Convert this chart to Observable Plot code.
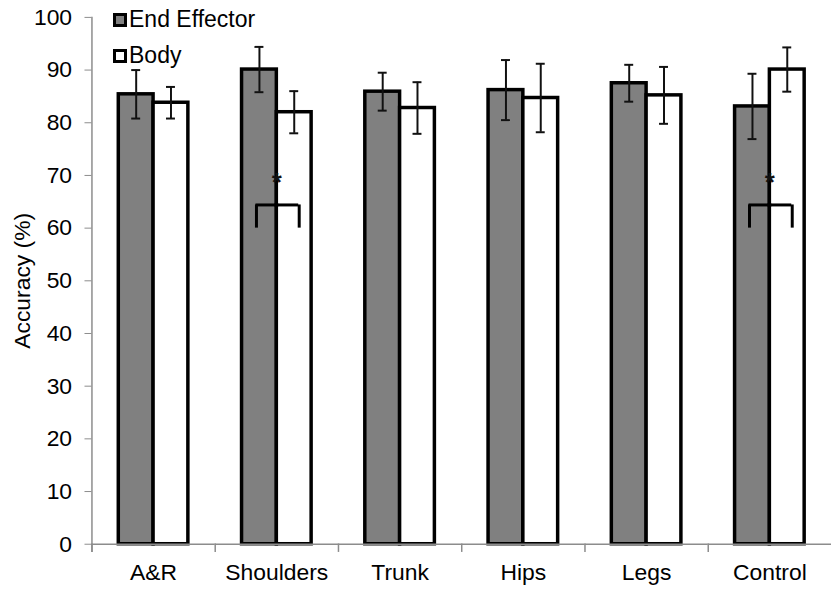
<!DOCTYPE html>
<html><head><meta charset="utf-8">
<script src="https://cdn.jsdelivr.net/npm/d3@7"></script>
<script src="https://cdn.jsdelivr.net/npm/@observablehq/plot@0.6"></script>
<style>
html,body{margin:0;padding:0;background:#fff;overflow:hidden}
#wrap{position:relative;width:831px;height:590px;overflow:hidden;font-family:"Liberation Sans",Arial,sans-serif}
.leg{position:absolute;left:129px;font-size:23px;line-height:23px;color:#000;white-space:nowrap}
.sw{position:absolute;left:113px;width:8px;height:8px;border:3px solid #000;box-sizing:content-box}
</style></head><body><div id="wrap"></div>
<script>
const categories = ["A&R", "Shoulders", "Trunk", "Hips", "Legs", "Control"];
const series = ["End Effector", "Body"];
const endEffector = [85.4, 90.1, 85.9, 86.2, 87.5, 83.1];
const endEffectorErr = [4.6, 4.3, 3.6, 5.7, 3.5, 6.2];
const body = [83.8, 82.0, 82.8, 84.7, 85.2, 90.1];
const bodyErr = [3.0, 4.0, 4.9, 6.5, 5.4, 4.2];
const yTicks = [0, 10, 20, 30, 40, 50, 60, 70, 80, 90, 100];
const sigCategories = ["Shoulders", "Control"];
const bracketTop = 64.4;
const bracketBottom = 60;
const starY = 68.7;

const rows = categories.flatMap((c, i) => [
  {cat: c, series: series[0], value: endEffector[i], err: endEffectorErr[i]},
  {cat: c, series: series[1], value: body[i], err: bodyErr[i]}
]);
const sigRows = sigCategories.flatMap(c => series.map(s => ({cat: c, series: s})));

const axisGray = "#8c8c8c";
const chart = Plot.plot({
  width: 836, height: 590,
  marginLeft: 91, marginRight: 0, marginTop: 17, marginBottom: 43,
  style: {fontFamily: "'Liberation Sans', Arial, sans-serif", fontSize: "23px", background: "white", color: "black", overflow: "visible"},
  fx: {domain: categories, padding: 0, axis: null, label: null},
  x: {type: "band", domain: series, paddingInner: 0, paddingOuter: 0.725, axis: null},
  y: {domain: [0, 100], axis: null},
  color: {domain: series, range: ["#808080", "#ffffff"]},
  marks: [
    Plot.barY(rows, {fx: "cat", x: "series", y: "value", fill: "series", stroke: "black", strokeWidth: 3.5}),
    Plot.ruleX(rows, {fx: "cat", x: "series", y1: d => d.value - d.err, y2: d => d.value + d.err, stroke: "#111", strokeWidth: 2}),
    Plot.tickY(rows, {fx: "cat", x: "series", y: d => d.value + d.err, insetLeft: 13, insetRight: 13, stroke: "#111", strokeWidth: 2}),
    Plot.tickY(rows, {fx: "cat", x: "series", y: d => d.value - d.err, insetLeft: 13, insetRight: 13, stroke: "#111", strokeWidth: 2}),
    // significance brackets
    Plot.tickY(sigRows.filter(d => d.series === series[0]), {fx: "cat", x: "series", y: () => bracketTop, insetLeft: 14, insetRight: -2, stroke: "black", strokeWidth: 3}),
    Plot.tickY(sigRows.filter(d => d.series === series[1]), {fx: "cat", x: "series", y: () => bracketTop, insetLeft: -2, insetRight: 13, stroke: "black", strokeWidth: 3}),
    Plot.ruleX(sigRows.filter(d => d.series === series[0]), {fx: "cat", x: "series", y1: () => bracketBottom, y2: () => bracketTop, dx: -3, stroke: "black", strokeWidth: 3}),
    Plot.ruleX(sigRows.filter(d => d.series === series[1]), {fx: "cat", x: "series", y1: () => bracketBottom, y2: () => bracketTop, dx: 5, stroke: "black", strokeWidth: 3}),
    Plot.text(sigCategories, {fx: d => d, y: () => starY, text: () => "*", fontSize: 26, fontWeight: "bold", fill: "#111", lineAnchor: "middle"}),
    Plot.ruleY([0], {stroke: axisGray, strokeWidth: 1.5}),
    Plot.frame({anchor: "left", insetTop: 530, insetBottom: -7, stroke: axisGray, strokeWidth: 1.5}),
    Plot.frame({anchor: "left", insetBottom: -7, stroke: axisGray, strokeWidth: 1.5, facetAnchor: "left"}),
    Plot.axisY({ticks: yTicks, tickSize: 7, tickPadding: 13, fontSize: 23, stroke: axisGray, fill: "black",
      label: "Accuracy (%)", labelAnchor: "center", labelArrow: "none", labelOffset: 79}),
    Plot.axisFx({anchor: "bottom", tickSize: 0, tickPadding: 20, fontSize: 23, label: null, fill: "black"})
  ]
});
const wrap = document.getElementById("wrap");
wrap.appendChild(chart);
const legend = [
  {name: series[0], color: "#808080", boxTop: 12.5, textTop: 8},
  {name: series[1], color: "#ffffff", boxTop: 49, textTop: 43.5}
];
for (const l of legend) {
  const sw = document.createElement("div");
  sw.className = "sw"; sw.style.top = l.boxTop + "px"; sw.style.background = l.color;
  wrap.appendChild(sw);
  const t = document.createElement("div");
  t.className = "leg"; t.style.top = l.textTop + "px"; t.textContent = l.name;
  wrap.appendChild(t);
}
</script></body></html>
